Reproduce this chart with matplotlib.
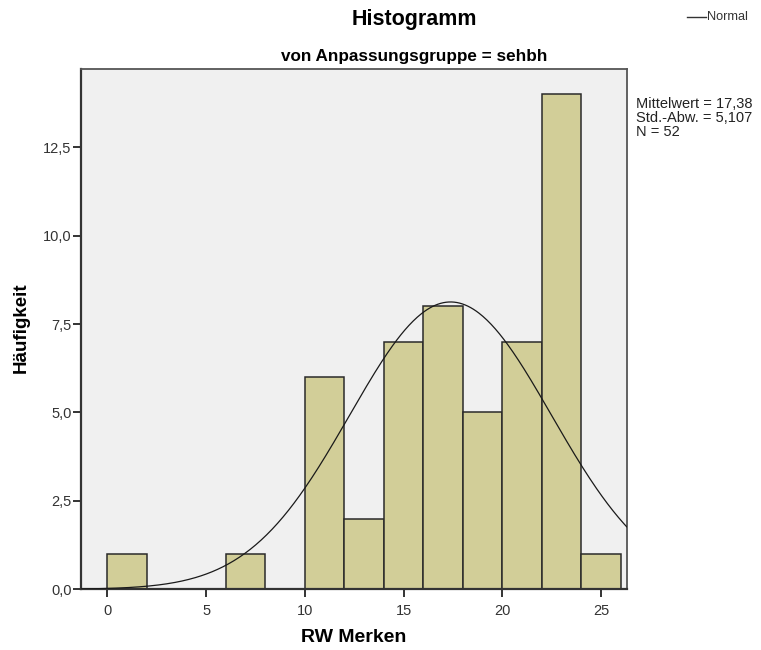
import numpy as np
import matplotlib
matplotlib.use("Agg")
import matplotlib.pyplot as plt

# Histogram bins (width 2) and counts
bin_edges = [0, 2, 4, 6, 8, 10, 12, 14, 16, 18, 20, 22, 24, 26]
counts = [1, 0, 0, 1, 0, 6, 2, 7, 8, 5, 7, 14, 1]

mean_val = 17.38
std_val = 5.107
n_total = 52

x_ticks = [0, 5, 10, 15, 20, 25]
y_ticks = [0.0, 2.5, 5.0, 7.5, 10.0, 12.5]

plt.rcParams['font.family'] = ['Liberation Sans', 'DejaVu Sans']

fig = plt.figure(figsize=(7.61, 6.5), dpi=100)
ax = fig.add_axes([0.1058, 0.0934, 0.8235 - 0.1058, 0.8938 - 0.0934])
ax.set_facecolor('#F0F0F0')

edges = np.array(bin_edges, dtype=float)
widths = np.diff(edges)
ax.bar(edges[:-1], counts, width=widths, align='edge',
       color='#D2CE98', edgecolor='#2a2a2a', linewidth=1.1, zorder=2)

# Normal curve scaled to counts
bw = widths[0]
xs = np.linspace(-1.36, 26.3, 400)
ys = n_total * bw * np.exp(-0.5 * ((xs - mean_val) / std_val) ** 2) / (std_val * np.sqrt(2 * np.pi))
ax.plot(xs, ys, color='#1a1a1a', linewidth=0.9, zorder=3)

ax.set_xlim(-1.36, 26.3)
ax.set_ylim(0, 14.71)
ax.set_xticks(x_ticks)
ax.set_xticklabels([str(t) for t in x_ticks])
ax.set_yticks(y_ticks)
ax.set_yticklabels([f"{t:.1f}".replace('.', ',') for t in y_ticks])
ax.tick_params(direction='out', length=5.5, width=1.4, color='#333333',
               labelsize=10.5, labelcolor='#333333')
ax.tick_params(axis='x', pad=5)
ax.tick_params(axis='y', pad=1)
for s in ax.spines.values():
    s.set_color('#555555')
    s.set_linewidth(1.3)
for s in ('left', 'bottom'):
    ax.spines[s].set_color('#333333')
    ax.spines[s].set_linewidth(1.6)

# Axis titles
fig.text(354 / 761, 1 - 637 / 650, 'RW Merken', fontsize=14, fontweight='bold',
         ha='center', va='center')
fig.text(21 / 761, 1 - 328 / 650, 'Häufigkeit', fontsize=13.5, fontweight='bold',
         ha='center', va='center', rotation=90)

fig.text(414 / 761, 1 - 19 / 650, 'Histogramm', fontsize=15.5, fontweight='bold',
         ha='center', va='center')
fig.text(414 / 761, 1 - 56 / 650, 'von Anpassungsgruppe = sehbh', fontsize=12.3,
         fontweight='bold', ha='center', va='center')

# Legend entry for the normal curve
fig.add_artist(plt.Line2D([687 / 761, 706 / 761], [1 - 17 / 650, 1 - 17 / 650],
                          color='#333333', linewidth=1.0))
fig.text(707 / 761, 1 - 17 / 650, 'Normal', fontsize=9.2, color='#333333',
         ha='left', va='center')

fig.text(636 / 761, 1 - 118 / 650,
         'Mittelwert = 17,38\nStd.-Abw. = 5,107\nN = 52',
         fontsize=10.5, color='#222222', ha='left', va='center', linespacing=1.0)

fig.savefig('out.png', dpi=100, facecolor='white')
